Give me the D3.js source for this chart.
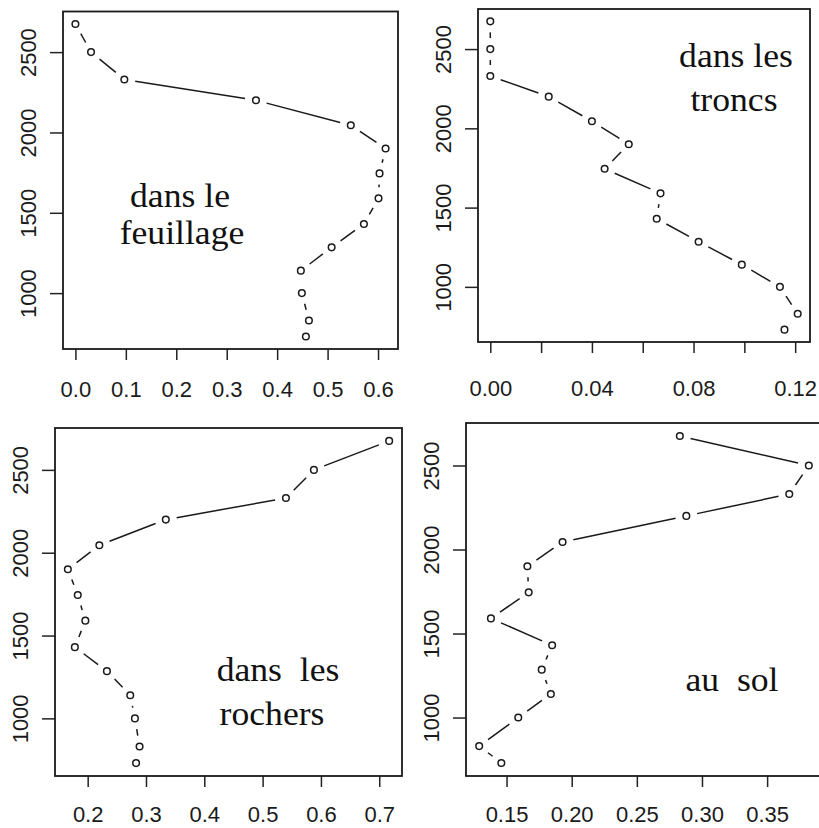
<!DOCTYPE html>
<html>
<head>
<meta charset="utf-8">
<script src="https://cdn.jsdelivr.net/npm/d3@7"></script>
<style>
    body { margin: 0; background: #ffffff; }
    .tick text { font-family: "Liberation Sans", Arial, sans-serif; font-size: 22px; fill: #1a1a1a; }
    .label { font-family: "Liberation Serif", "Times New Roman", serif; font-size: 33px; fill: #111; white-space: pre; }
</style>
</head>
<body>
<div id="chart"></div>
<script>
// altitude of each sampling level (m), same for all four panels
const altitudes = [2675, 2500, 2330, 2200, 2045, 1900, 1745, 1590, 1430, 1285, 1140, 1000, 830, 730];

// proportions
const feuillage = [0.0, 0.031, 0.097, 0.358, 0.546, 0.615, 0.603, 0.601, 0.572, 0.508, 0.447, 0.449, 0.463, 0.457];
const troncs = [0.0, 0.0, 0.0, 0.023, 0.040, 0.0545, 0.045, 0.067, 0.0655, 0.082, 0.099, 0.114, 0.121, 0.1158];
const rochers = [0.717, 0.588, 0.540, 0.334, 0.220, 0.166, 0.183, 0.196, 0.178, 0.233, 0.273, 0.281, 0.289, 0.283];
const sol = [0.283, 0.382, 0.367, 0.288, 0.193, 0.166, 0.167, 0.138, 0.185, 0.177, 0.184, 0.159, 0.129, 0.146];

// tick values
const yTicks = [1000, 1500, 2000, 2500];
const ticksFeuillage = [0, 0.1, 0.2, 0.3, 0.4, 0.5, 0.6];
const ticksTroncs = [0, 0.02, 0.04, 0.06, 0.08, 0.10, 0.12];
const ticksRochers = [0.2, 0.3, 0.4, 0.5, 0.6, 0.7];
const ticksSol = [0.15, 0.20, 0.25, 0.30, 0.35];

const W = 819, H = 828;

var svg = d3.select("#chart")
    .append("svg")
    .attr("width", W)
    .attr("height", H);

// R style: data range padded by 4% on each side
function padded(values) {
    const ext = d3.extent(values);
    const p = (ext[1] - ext[0]) * 0.04;
    return [ext[0] - p, ext[1] + p];
}

function drawPanel(opts) {
    const box = opts.box;
    const x = d3.scaleLinear().domain(padded(opts.values)).range([box.left, box.right]);
    const y = d3.scaleLinear().domain(padded(altitudes)).range([box.bottom, box.top]);

    const g = svg.append("g");

    // x axis
    const xAxis = d3.axisBottom(x)
        .tickValues(opts.xTicks)
        .tickSize(11)
        .tickPadding(opts.xPad)
        .tickFormat(opts.xFormat);
    g.append("g")
        .attr("transform", `translate(0,${box.bottom})`)
        .call(xAxis)
        .call(a => a.select(".domain").remove())
        .call(a => a.selectAll(".tick line").attr("stroke", "#222").attr("stroke-width", 1.5));

    // y axis, labels rotated like R
    const yAxis = d3.axisLeft(y)
        .tickValues(yTicks)
        .tickSize(13)
        .tickFormat(d3.format("d"));
    g.append("g")
        .attr("transform", `translate(${box.left},0)`)
        .call(yAxis)
        .call(a => a.select(".domain").remove())
        .call(a => a.selectAll(".tick line").attr("stroke", "#222").attr("stroke-width", 1.5))
        .call(a => a.selectAll(".tick text")
            .attr("x", null)
            .attr("dy", null)
            .attr("text-anchor", "middle")
            .attr("transform", "translate(-27,0) rotate(-90)"));

    // box
    g.append("rect")
        .attr("x", box.left)
        .attr("y", box.top)
        .attr("width", box.right - box.left)
        .attr("height", box.bottom - box.top)
        .attr("fill", "none")
        .attr("stroke", "#1a1a1a")
        .attr("stroke-width", 1.8);

    // lines with gaps around the points (type = "b")
    const pts = opts.values.map((v, i) => [x(v), y(altitudes[i])]);
    const gap = 11;
    const segs = [];
    for (let i = 0; i < pts.length - 1; i++) {
        const dx = pts[i + 1][0] - pts[i][0];
        const dy = pts[i + 1][1] - pts[i][1];
        const len = Math.sqrt(dx * dx + dy * dy);
        if (len > 2 * gap + 1) {
            const ux = dx / len, uy = dy / len;
            segs.push([pts[i][0] + ux * gap, pts[i][1] + uy * gap,
                pts[i + 1][0] - ux * gap, pts[i + 1][1] - uy * gap]);
        }
    }
    g.append("g")
        .selectAll("line")
        .data(segs)
        .enter()
        .append("line")
        .attr("x1", d => d[0])
        .attr("y1", d => d[1])
        .attr("x2", d => d[2])
        .attr("y2", d => d[3])
        .attr("stroke", "#1a1a1a")
        .attr("stroke-width", 1.5);

    // open circles
    g.append("g")
        .selectAll("circle")
        .data(opts.values)
        .enter()
        .append("circle")
        .attr("cx", d => x(d))
        .attr("cy", (d, i) => y(altitudes[i]))
        .attr("r", 3.3)
        .attr("fill", "none")
        .attr("stroke", "#1a1a1a")
        .attr("stroke-width", 1.5);

    // panel label, slightly widened like the scanned original
    g.selectAll(".label")
        .data(opts.label)
        .enter()
        .append("text")
        .attr("class", "label")
        .attr("text-anchor", "middle")
        .attr("transform", d => `translate(${d.x},${d.y}) scale(1.08,1)`)
        .text(d => d.text);
}

drawPanel({
    values: feuillage,
    box: {left: 63, right: 398, top: 11.5, bottom: 349},
    xTicks: ticksFeuillage,
    xFormat: d3.format(".1f"),
    xPad: 21,
    label: [{text: "dans le", x: 180, y: 207}, {text: "feuillage", x: 182, y: 244}]
});

drawPanel({
    values: troncs,
    box: {left: 478, right: 810, top: 9, bottom: 342},
    xTicks: ticksTroncs,
    xFormat: d => (Math.round(d * 100) % 4 === 0 ? d3.format(".2f")(d) : ""),
    xPad: 27,
    label: [{text: "dans les", x: 736, y: 67}, {text: "troncs", x: 734, y: 111}]
});

drawPanel({
    values: rochers,
    box: {left: 55, right: 402, top: 428, bottom: 776},
    xTicks: ticksRochers,
    xFormat: d3.format(".1f"),
    xPad: 19,
    label: [{text: "dans  les", x: 278, y: 681}, {text: "rochers", x: 272, y: 725}]
});

drawPanel({
    values: sol,
    box: {left: 466, right: 822, top: 423, bottom: 776},
    xTicks: ticksSol,
    xFormat: d3.format(".2f"),
    xPad: 19,
    label: [{text: "au  sol", x: 732, y: 691}]
});
</script>
</body>
</html>
